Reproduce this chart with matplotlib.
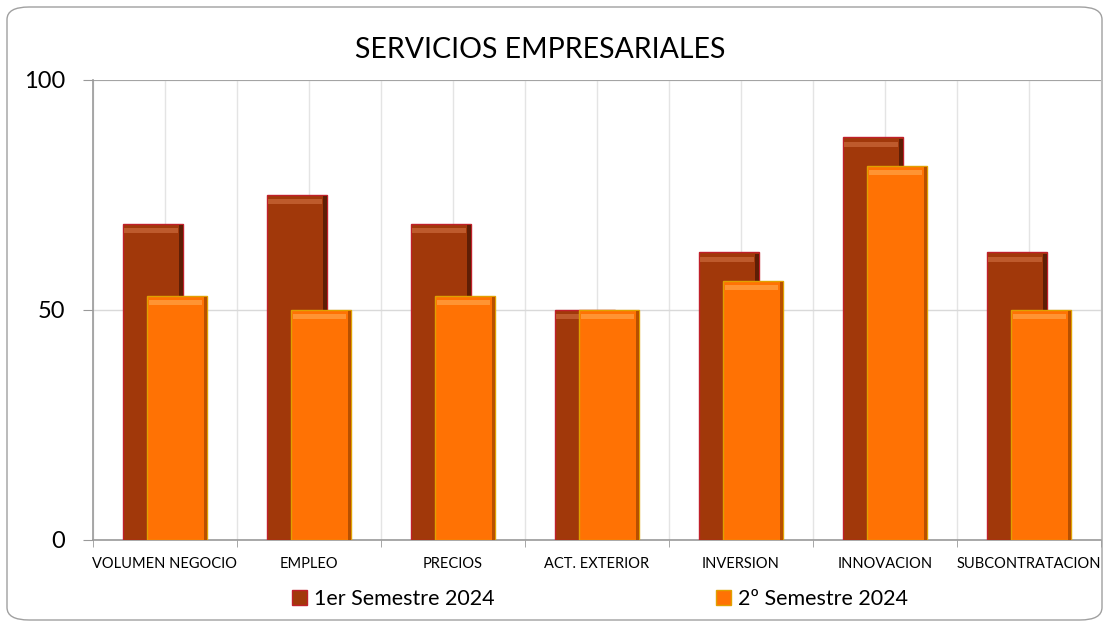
import matplotlib.pyplot as plt
import numpy as np
from matplotlib.patches import FancyBboxPatch, Patch

categorias = ["VOLUMEN NEGOCIO", "EMPLEO", "PRECIOS", "ACT. EXTERIOR",
              "INVERSION", "INNOVACION", "SUBCONTRATACION"]
sem1 = [68.8, 75.0, 68.8, 50.0, 62.5, 87.5, 62.5]
sem2 = [53.1, 50.0, 53.1, 50.0, 56.3, 81.3, 50.0]
series = ["1er Semestre 2024", "2º Semestre 2024"]

plt.rcParams['font.family'] = ['Lato', 'DejaVu Sans']

fig = plt.figure(figsize=(11.05, 6.26), dpi=100)
ax = fig.add_axes([93 / 1105, 86 / 626, 1008 / 1105, 460 / 626])

x = np.arange(len(categorias))
w = 0.42
off = 0.085


def bevel_bar(xpos, vals, base, light, dark, edge, z):
    vals = np.array(vals)
    ax.bar(xpos, vals, width=w, color=base, edgecolor=edge, linewidth=1.0, zorder=z)
    # highlight band near top
    ax.bar(xpos - 0.012, [1.1] * len(vals), bottom=vals - 2.0, width=w - 0.05,
           color=light, linewidth=0, zorder=z + 0.1)
    # shaded right edge
    ax.bar(xpos + w / 2 - 0.014, vals - 0.3, width=0.026, color=dark, linewidth=0,
           zorder=z + 0.2)


bevel_bar(x - off, sem1, "#A1380A", "#BE5A2C", "#5E1E05", "#C0202A", 3)
bevel_bar(x + off, sem2, "#FF7204", "#FF9433", "#B85000", "#E0A000", 5)

ax.set_xlim(-0.5, len(categorias) - 0.5)
ax.set_ylim(0, 100)
ax.set_yticks([0, 50, 100])
ax.tick_params(axis='y', labelsize=17, length=7, color="#999999", pad=13)

ax.set_xticks(x)
ax.set_xticklabels(categorias, fontsize=10.5)
ax.set_xticks(np.arange(-0.5, len(categorias)), minor=True)
ax.tick_params(axis='x', which='major', length=0, pad=12)
ax.tick_params(axis='x', which='minor', length=5, color="#999999")

ax.grid(True, axis='x', which='both', color="#E4E4E4", linewidth=1.0, zorder=0)
ax.grid(True, axis='y', which='major', color="#D9D9D9", linewidth=1.0, zorder=0)
ax.set_axisbelow(True)

for s in ['top', 'right']:
    ax.spines[s].set_visible(False)
for s in ['left', 'bottom']:
    ax.spines[s].set_color("#9A9A9A")
    ax.spines[s].set_linewidth(1.2)
ax.axhline(100, color="#9A9A9A", linewidth=1.2, zorder=1)

fig.text(540 / 1105, 1 - 50 / 626, "SERVICIOS EMPRESARIALES", fontsize=20.5,
         ha='center', va='center')

handles = [Patch(facecolor="#A1380A", edgecolor="#C0202A"),
           Patch(facecolor="#FF7204", edgecolor="#E0A000")]
fig.legend(handles, series, loc='center', bbox_to_anchor=(600 / 1105, 1 - 599 / 626),
           ncol=2, frameon=False, fontsize=15.5, handlelength=0.7, handleheight=0.7,
           handletextpad=0.3, columnspacing=10.3)

fig.patches.append(FancyBboxPatch((7 / 1105, 6 / 626), 1095 / 1105, 613 / 626,
                                  boxstyle="round,pad=0,rounding_size=0.02",
                                  transform=fig.transFigure, facecolor='none',
                                  edgecolor="#A0A0A0", linewidth=1.0))

fig.savefig("out.png", dpi=100)
